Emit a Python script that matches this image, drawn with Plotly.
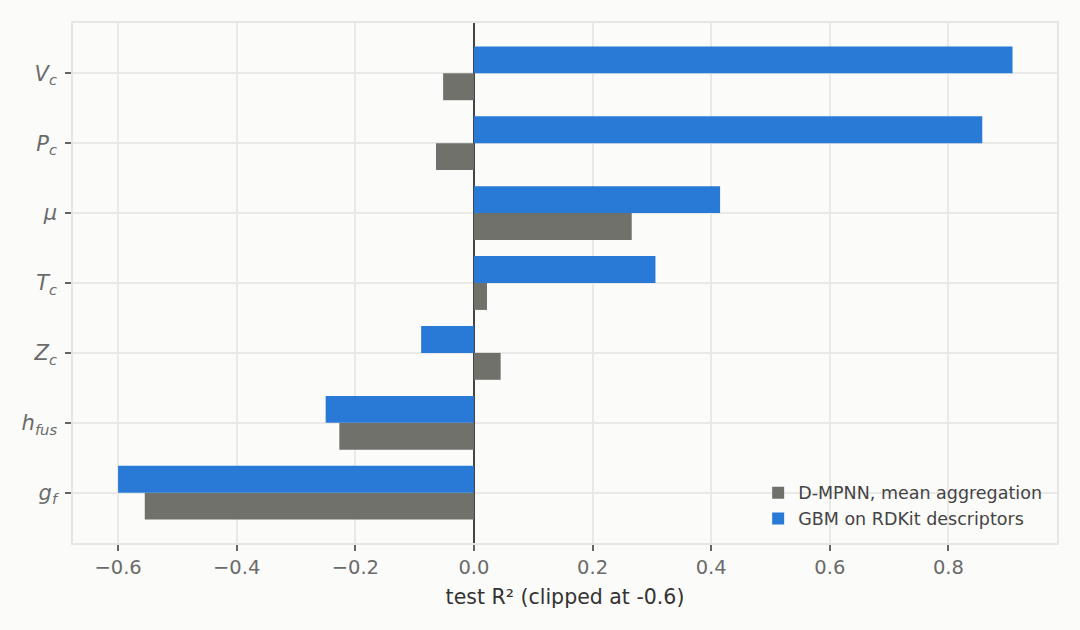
import plotly.graph_objects as go

categories = ["V_c", "P_c", "μ", "T_c", "Z_c", "h_fus", "g_f"]
tick_labels = ["<i>V</i><sub><i>c</i></sub>", "<i>P</i><sub><i>c</i></sub>", "<i>μ</i>",
               "<i>T</i><sub><i>c</i></sub>", "<i>Z</i><sub><i>c</i></sub>",
               "<i>h</i><sub><i>fus</i></sub>", "<i>g</i><sub><i>f</i></sub>"]
dmpnn = [-0.052, -0.064, 0.266, 0.022, 0.045, -0.227, -0.555]
gbm = [0.908, 0.857, 0.415, 0.306, -0.089, -0.250, -0.600]

n = len(categories)
ypos = [n - 1 - i for i in range(n)]

BG = "#fbfbf9"
GRID = "#e9e9e7"
TXT = "#6b6b6b"

fig = go.Figure()
fig.add_trace(go.Bar(x=dmpnn, y=ypos, orientation="h", name="D-MPNN, mean aggregation",
                     marker=dict(color="#71716b", line=dict(width=0))))
fig.add_trace(go.Bar(x=gbm, y=ypos, orientation="h", name="GBM on RDKit descriptors",
                     marker=dict(color="#2979d6", line=dict(width=0))))

fig.update_layout(
    width=1080, height=630,
    paper_bgcolor=BG, plot_bgcolor=BG,
    margin=dict(l=73, r=23, t=23, b=87),
    barmode="group", bargap=0.23, bargroupgap=0,
    font=dict(family="DejaVu Sans", color=TXT, size=18),
    showlegend=True,
    legend=dict(x=0.99, xanchor="right", y=0.012, yanchor="bottom",
                bgcolor="rgba(0,0,0,0)", font=dict(size=17.5, color="#444"),
                traceorder="normal", tracegroupgap=0),
    xaxis=dict(range=[-0.676, 0.983], tickvals=[-0.6, -0.4, -0.2, 0.0, 0.2, 0.4, 0.6, 0.8],
               ticktext=["−0.6", "−0.4", "−0.2", "0.0", "0.2", "0.4", "0.6", "0.8"],
               showgrid=True, gridcolor=GRID, gridwidth=1.5,
               zeroline=True, zerolinecolor="#444", zerolinewidth=2,
               ticks="outside", ticklen=6, tickwidth=1.5, tickcolor="#666",
               showline=True, mirror=True, linecolor="#e6e6e4", linewidth=1.5,
               title=dict(text="test R² (clipped at -0.6)", font=dict(size=20.5, color="#333"), standoff=11),
               tickfont=dict(size=19.5, color=TXT)),
    yaxis=dict(range=[-0.72, n - 1 + 0.72], tickvals=ypos, ticktext=tick_labels,
               showgrid=True, gridcolor=GRID, gridwidth=1.5, zeroline=False,
               ticks="outside", ticklen=6, tickwidth=1.5, tickcolor="#666",
               ticklabelstandoff=4,
               showline=True, mirror=True, linecolor="#e6e6e4", linewidth=1.5,
               tickfont=dict(size=21, color=TXT)),
)

fig.write_html("out.html")
